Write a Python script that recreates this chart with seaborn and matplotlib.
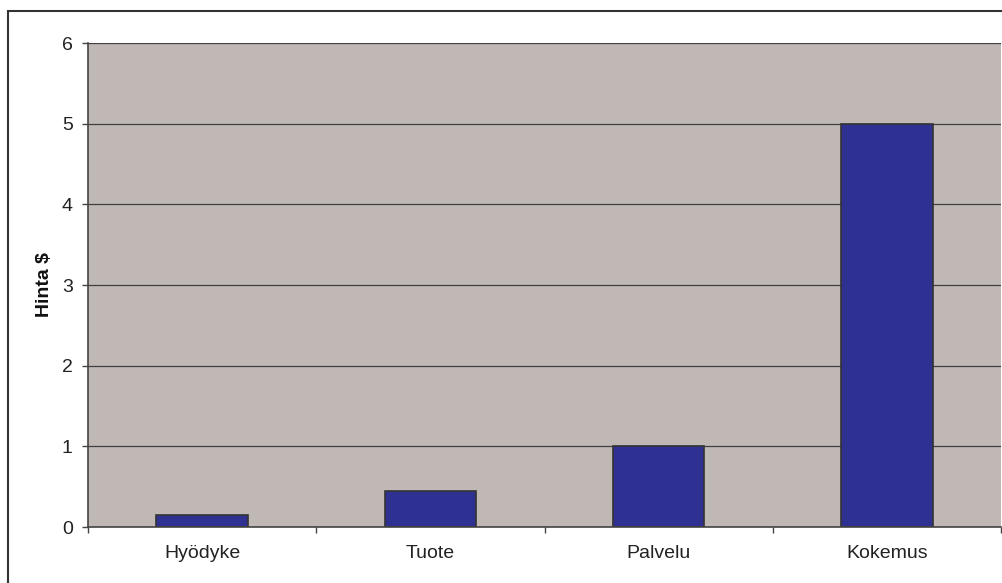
import pandas as pd
import matplotlib.pyplot as plt
import seaborn as sns
from matplotlib.patches import Rectangle

# Data
categories = ["Hyödyke", "Tuote", "Palvelu", "Kokemus"]
prices = [0.15, 0.45, 1.0, 5.0]

df = pd.DataFrame({"kategoria": categories, "hinta": prices})

sns.set_style("white")
plt.rcParams["font.family"] = ["Liberation Sans", "DejaVu Sans"]

fig = plt.figure(figsize=(10.02, 5.83), dpi=100)
ax = fig.add_axes([88 / 1002, 1 - 527 / 583, 913 / 1002, 484 / 583])
ax.set_facecolor("#C0B8B5")

sns.barplot(
    x="kategoria", y="hinta", data=df, ax=ax,
    color="#2E3192", saturation=1, width=0.4,
    edgecolor="#333333", linewidth=1.2
)

ax.set_xlim(-0.5, 3.5)
ax.set_ylim(0, 6)
ax.set_yticks(range(0, 7))
ax.yaxis.grid(True, color="#404040", linewidth=0.9)
ax.set_axisbelow(True)

# category boundary ticks on x axis
ax.set_xticks([-0.5, 0.5, 1.5, 2.5, 3.5], minor=True)
ax.tick_params(axis="x", which="major", length=0, pad=13, labelsize=14, colors="#222222")
ax.tick_params(axis="x", which="minor", length=4, width=1, color="#444444", direction="out")
ax.tick_params(axis="y", length=4, width=1, color="#444444", direction="out",
               labelsize=14, pad=7, colors="#222222")
ax.tick_params(axis="x", which="both", bottom=True)
ax.tick_params(axis="y", left=True)

ax.set_xlabel("")
ax.set_ylabel("Hinta $", fontweight="bold", fontsize=14, labelpad=6, color="#111111")

for side in ["top", "right"]:
    ax.spines[side].set_visible(False)
for side in ["left", "bottom"]:
    ax.spines[side].set_color("#444444")
    ax.spines[side].set_linewidth(1.2)

# outer chart border (cut off at right and bottom)
fig.add_artist(Rectangle((8 / 1002, -0.1), 1.2, 1 - 11 / 583 + 0.1,
                         transform=fig.transFigure, fill=False,
                         edgecolor="#333333", linewidth=1.5))

fig.savefig("out.png", dpi=100, facecolor="white")
